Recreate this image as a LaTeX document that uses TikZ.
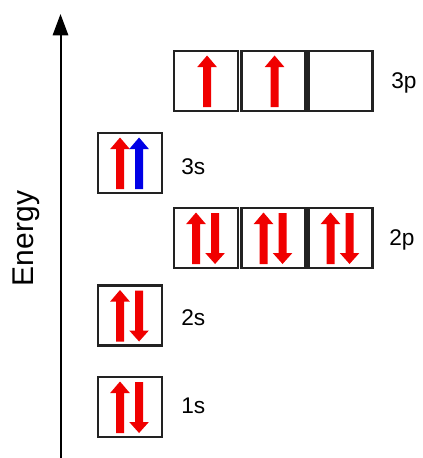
\documentclass[tikz,border=0pt]{standalone}
\usepackage{fontspec}
\setmainfont{Liberation Sans}
\usetikzlibrary{arrows.meta,calc}
\definecolor{boxline}{HTML}{222222}
\definecolor{spinred}{HTML}{F00000}
\definecolor{spinblue}{HTML}{0000E6}
\newcommand\SpinUp[3]{\fill[#3,shift={#1},xshift=#2] (-4,26) -- (-4,-14) -- (-9.8,-14) -- (0,-25.5) -- (9.8,-14) -- (4,-14) -- (4,26) -- cycle;}
\newcommand\SpinDn[3]{\fill[#3,shift={#1},xshift=#2] (-4,-25) -- (-4,15) -- (-9.8,15) -- (0,26) -- (9.8,15) -- (4,15) -- (4,-25) -- cycle;}
\begin{document}
\begin{tikzpicture}[x=0.75pt,y=-0.75pt,
  orb/.style={draw=boxline,line width=1.9pt,minimum width=47.7pt,minimum height=45.2pt,inner sep=0pt,fill=white},
  lbl/.style={font=\fontsize{17}{20}\selectfont,anchor=base west,inner sep=0pt}]
\useasboundingbox[fill=white] (0,0) rectangle (423,458);
% energy axis
\coordinate (axb) at (60.5,458);
\coordinate (axt) at (60.5,14);
\draw[line width=1.5pt,-{Triangle[length=16pt,width=11.5pt]}] (axb) -- (axt);
\node[rotate=90,anchor=base,inner sep=0pt,font=\fontsize{22.5}{26}\selectfont] (energy) at (33,238.5) {Energy};
% orbitals
\node[orb] (s1) at (130,407) {};
\node[orb] (s2) at (130,315.5) {};
\node[orb] (s3) at (130,163) {};
\node[orb] (p2a) at (206,238) {};
\node[orb] (p2b) at (273.5,238) {};
\node[orb] (p2c) at (340.5,238) {};
\node[orb] (p3a) at (206,81) {};
\node[orb] (p3b) at (273.5,81) {};
\node[orb] (p3c) at (340.5,81) {};
% electrons
\SpinUp{(s1)}{-7.5pt}{spinred}\SpinDn{(s1)}{6.8pt}{spinred}
\SpinUp{(s2)}{-7.5pt}{spinred}\SpinDn{(s2)}{6.8pt}{spinred}
\SpinUp{(s3)}{-7.5pt}{spinred}\SpinUp{(s3)}{6.8pt}{spinblue}
\SpinUp{(p2a)}{-7.5pt}{spinred}\SpinDn{(p2a)}{6.8pt}{spinred}
\SpinUp{(p2b)}{-7.5pt}{spinred}\SpinDn{(p2b)}{6.8pt}{spinred}
\SpinUp{(p2c)}{-7.5pt}{spinred}\SpinDn{(p2c)}{6.8pt}{spinred}
\SpinUp{(p3a)}{0.8pt}{spinred}
\SpinUp{(p3b)}{0.8pt}{spinred}
% labels
\node[lbl] (l1s) at (181,413) {1s};
\node[lbl] (l2s) at (181,325) {2s};
\node[lbl] (l3s) at (181,174) {3s};
\node[lbl] (l2p) at (389,245) {2p};
\node[lbl] (l3p) at (391,88) {3p};
\end{tikzpicture}
\end{document}
